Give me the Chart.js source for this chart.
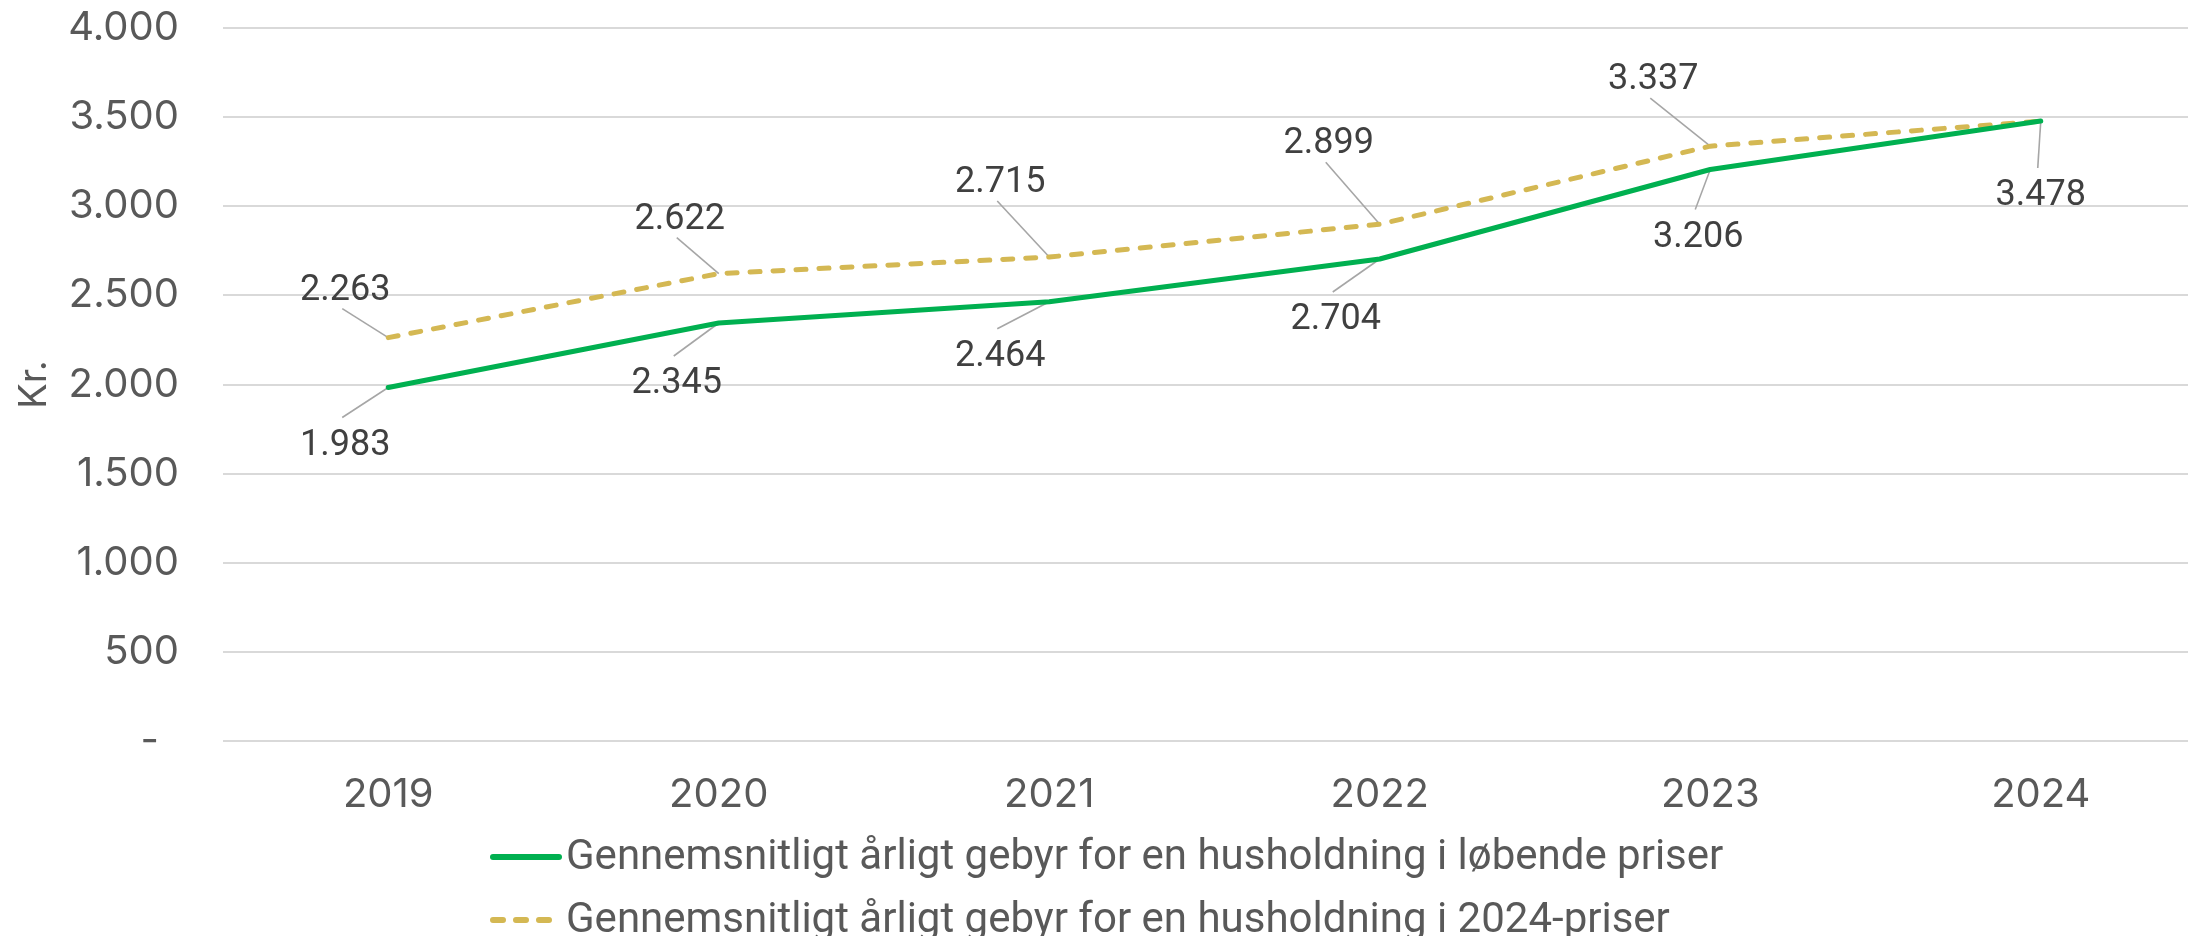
<!DOCTYPE html>
<html><head><meta charset="utf-8">
<script src="https://cdn.jsdelivr.net/npm/chart.js@4/dist/chart.umd.min.js"></script>
<style>
html,body{margin:0;padding:0;background:#fff;overflow:hidden;width:2188px;height:936px}
#wrap{width:2206px;height:936px}
</style></head>
<body><div id="wrap"><canvas id="c" width="2206" height="936"></canvas></div>
<script>
// ---- data ----
const years = ['2019', '2020', '2021', '2022', '2023', '2024'];
const currentPrices = [1983, 2345, 2464, 2704, 3206, 3478];
const fixedPrices2024 = [2263, 2622, 2715, 2899, 3337, 3478];
const seriesNames = [
  'Gennemsnitligt årligt gebyr for en husholdning i løbende priser',
  'Gennemsnitligt årligt gebyr for en husholdning i 2024-priser'
];
const yAxisTitle = 'Kr.';
const shownLabels = [
  [true, true, true, true, true, true],
  [true, true, true, true, true, false]
];

// ---- label placement (styling) ----
const labelOffsets = [
  [[-43, 53], [-42, 56], [-49, 50], [-44, 56], [-12, 63], [0, 70]],
  [[-43, -52], [-39, -59], [-49, -79], [-51, -85], [-57, -71], [0, 0]]
];

const GREEN = '#00B050', GOLD = '#D4B853', GRID = '#D9D9D9', TXT = '#595959', LBL = '#404040';
const AXIS_FONT = 'Inter, "Open Sans", sans-serif';
const LABEL_FONT = 'Roboto, "DejaVu Sans", sans-serif';

function fmt(v) {
  if (v === 0) return '-\u2002';
  return String(Math.round(v)).replace(/\B(?=(\d{3})+(?!\d))/g, '.');
}

const leaderPlugin = {
  id: 'leaderLabels',
  beforeDatasetsDraw(chart) {
    const ctx = chart.ctx;
    ctx.save();
    ctx.strokeStyle = '#A6A6A6';
    ctx.lineWidth = 1.6;
    chart.data.datasets.forEach((ds, di) => {
      const meta = chart.getDatasetMeta(di);
      meta.data.forEach((pt, i) => {
        if (!shownLabels[di][i]) return;
        const o = labelOffsets[di][i];
        const lx = pt.x + o[0], ly = pt.y + o[1];
        const ey = ly - Math.sign(o[1]) * 23;
        ctx.beginPath();
        ctx.moveTo(pt.x, pt.y);
        ctx.lineTo(lx - 3, ey);
        ctx.stroke();
      });
    });
    ctx.restore();
  },
  afterDatasetsDraw(chart) {
    const ctx = chart.ctx;
    ctx.save();
    ctx.fillStyle = LBL;
    ctx.font = '36px ' + LABEL_FONT;
    ctx.textAlign = 'center';
    ctx.textBaseline = 'middle';
    chart.data.datasets.forEach((ds, di) => {
      const meta = chart.getDatasetMeta(di);
      meta.data.forEach((pt, i) => {
        if (!shownLabels[di][i]) return;
        const o = labelOffsets[di][i];
        ctx.fillText(fmt(ds.data[i]), pt.x + o[0], pt.y + o[1] + 5);
      });
    });
    ctx.restore();
  },
  afterDraw(chart) {
    const ctx = chart.ctx;
    ctx.save();
    const rows = [857, 920];
    chart.data.datasets.forEach((ds, di) => {
      const y = rows[di];
      ctx.strokeStyle = ds.borderColor;
      ctx.lineWidth = 6;
      ctx.lineCap = 'round';
      ctx.setLineDash(ds.borderDash || []);
      ctx.beginPath();
      ctx.moveTo(493, y);
      ctx.lineTo(559, y);
      ctx.stroke();
      ctx.setLineDash([]);
      ctx.fillStyle = TXT;
      ctx.font = '42px ' + LABEL_FONT;
      ctx.textAlign = 'left';
      ctx.textBaseline = 'middle';
      ctx.fillText(ds.label, 566, y + 1);
    });
    ctx.restore();
  }
};

new Chart(document.getElementById('c'), {
  type: 'line',
  data: {
    labels: years,
    datasets: [
      {
        label: seriesNames[0], data: currentPrices,
        borderColor: GREEN, backgroundColor: GREEN, borderWidth: 5,
        pointRadius: 0, tension: 0, borderCapStyle: 'round', borderJoinStyle: 'round'
      },
      {
        label: seriesNames[1], data: fixedPrices2024,
        borderColor: GOLD, backgroundColor: GOLD, borderWidth: 5,
        borderDash: [10, 13], borderCapStyle: 'round', borderJoinStyle: 'round',
        pointRadius: 0, tension: 0
      }
    ]
  },
  options: {
    responsive: false,
    animation: false,
    devicePixelRatio: 1,
    layout: { padding: { top: 4, right: 0, left: 0, bottom: 0 } },
    plugins: { legend: { display: false }, tooltip: { enabled: false } },
    scales: {
      x: {
        offset: true,
        grid: { display: false },
        border: { display: false },
        ticks: { color: TXT, font: { family: AXIS_FONT, size: 40 }, padding: 22 },
        afterFit(s) { s.height = 195; }
      },
      y: {
        min: 0, max: 4000,
        ticks: { stepSize: 500, color: TXT, font: { family: AXIS_FONT, size: 40 }, padding: 4, callback: v => fmt(v) },
        grid: { color: GRID, lineWidth: 2, drawTicks: true, tickLength: 40, tickColor: 'rgba(0,0,0,0)' },
        border: { display: false },
        title: { display: true, text: yAxisTitle, color: TXT, font: { family: AXIS_FONT, size: 38 }, padding: { top: 12, bottom: 0 } },
        afterFit(s) { s.width = 223; }
      }
    }
  },
  plugins: [leaderPlugin]
});
</script>
</body></html>
